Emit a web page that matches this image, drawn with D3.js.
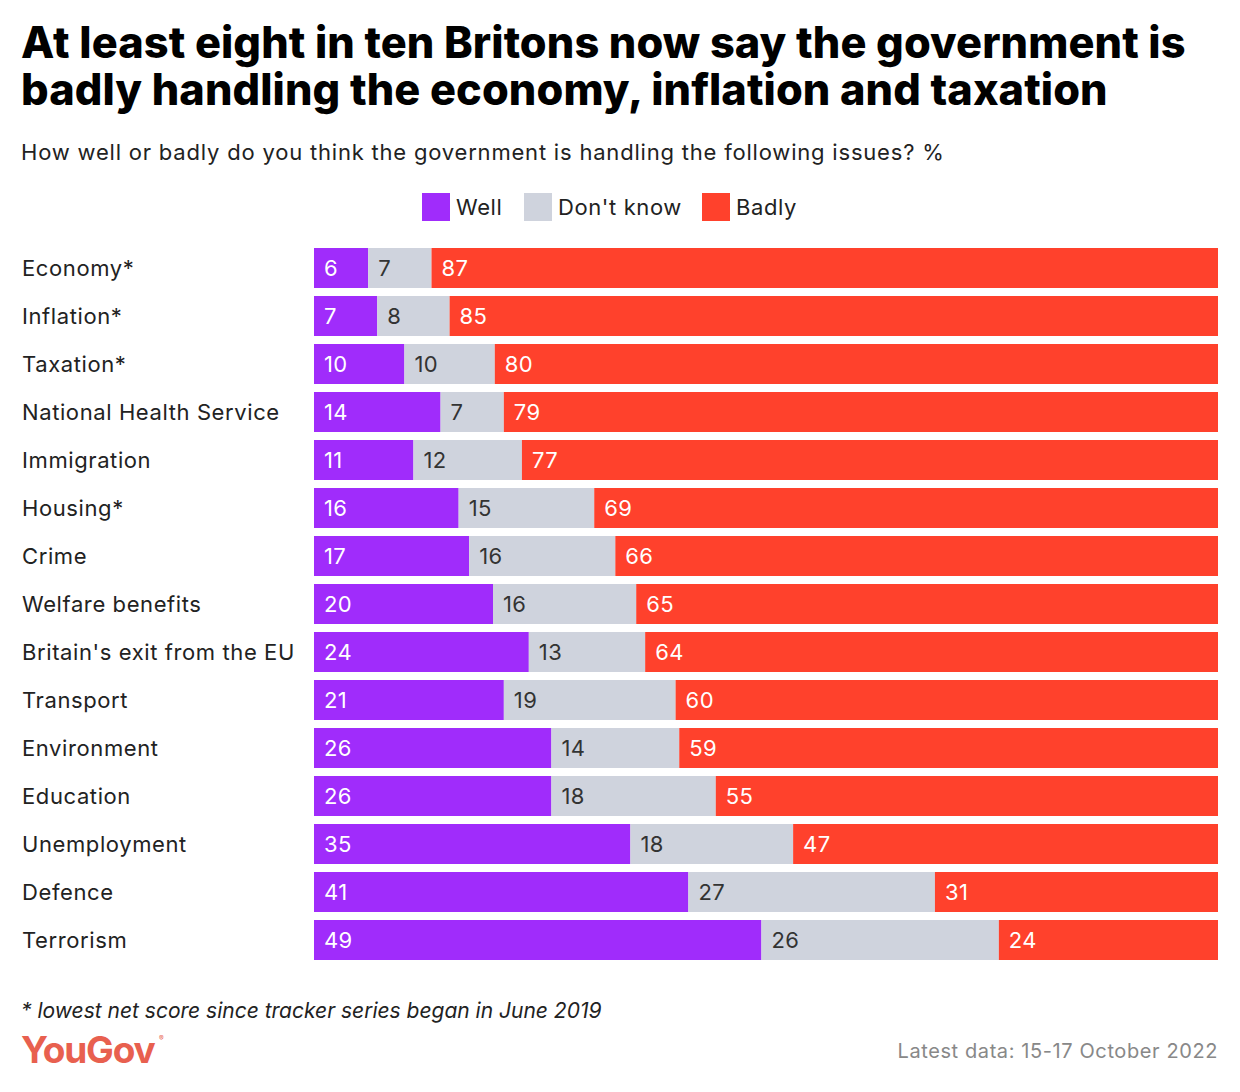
<!DOCTYPE html>
<html>
<head>
<meta charset="utf-8">
<script src="https://cdn.jsdelivr.net/npm/d3@7"></script>
<style>
  body { margin: 0; background: #fff; }
  svg { display: block; font-family: Inter, "Noto Sans", sans-serif; }
</style>
</head>
<body>
<svg id="chart" width="1240" height="1092"></svg>
<script>
var categories = ["Economy*", "Inflation*", "Taxation*", "National Health Service", "Immigration",
  "Housing*", "Crime", "Welfare benefits", "Britain's exit from the EU", "Transport",
  "Environment", "Education", "Unemployment", "Defence", "Terrorism"];
var well     = [6, 7, 10, 14, 11, 16, 17, 20, 24, 21, 26, 26, 35, 41, 49];
var dontKnow = [7, 8, 10, 7, 12, 15, 16, 16, 13, 19, 14, 18, 18, 27, 26];
var badly    = [87, 85, 80, 79, 77, 69, 66, 65, 64, 60, 59, 55, 47, 31, 24];
var seriesNames = ["Well", "Don't know", "Badly"];
var seriesColors = ["#a02cfb", "#cfd3dd", "#ff412c"];
var labelColors = ["#ffffff", "#333333", "#ffffff"];

var svg = d3.select("#chart");
var width = 1240, height = 1092;

// title
var title = svg.append("text")
  .style("font-size", "43.3px")
  .style("font-weight", 800)
  .style("letter-spacing", "0.1px")
  .attr("fill", "#000");
title.append("tspan").attr("x", 21).attr("y", 58).text("At least eight in ten Britons now say the government is");
title.append("tspan").attr("x", 21).attr("y", 105).text("badly handling the economy, inflation and taxation");

svg.append("text")
  .attr("x", 21).attr("y", 160)
  .style("font-size", "22px")
  .style("letter-spacing", "0.8px")
  .attr("fill", "#222")
  .text("How well or badly do you think the government is handling the following issues? %");

// legend
var legendX = [422, 524, 702];
var legend = svg.append("g");
seriesNames.forEach(function(name, i) {
  legend.append("rect")
    .attr("x", legendX[i]).attr("y", 193)
    .attr("width", 28).attr("height", 28)
    .attr("fill", seriesColors[i]);
  legend.append("text")
    .attr("x", legendX[i] + 34).attr("y", 215)
    .style("font-size", "22px")
    .style("letter-spacing", "0.6px")
    .attr("fill", "#222")
    .text(name);
});

// bars
var margin = {left: 314, right: 22, top: 248};
var rows = categories.map(function(c, i) {
  var vals = [well[i], dontKnow[i], badly[i]];
  var total = d3.sum(vals);
  var start = 0;
  var segs = vals.map(function(v, j) {
    var s = {cat: c, series: j, value: v, x0: start / total * 100, x1: (start + v) / total * 100};
    start += v;
    return s;
  });
  return {cat: c, segs: segs};
});

var x = d3.scaleLinear().domain([0, 100]).range([margin.left, width - margin.right]);
var y = d3.scaleBand().domain(categories)
  .range([margin.top, margin.top + 48 * categories.length - 8])
  .paddingInner(8 / 48).paddingOuter(0);

var rowG = svg.append("g").selectAll("g")
  .data(rows)
  .enter().append("g");

rowG.append("text")
  .attr("x", 22)
  .attr("y", function(d) { return y(d.cat) + y.bandwidth() / 2 + 8; })
  .style("font-size", "22px")
  .style("letter-spacing", "0.6px")
  .attr("fill", "#222")
  .text(function(d) { return d.cat; });

var seg = rowG.selectAll("g.seg")
  .data(function(d) { return d.segs; })
  .enter().append("g").attr("class", "seg");

seg.append("rect")
  .attr("x", function(d) { return x(d.x0); })
  .attr("y", function(d) { return y(d.cat); })
  .attr("width", function(d) { return x(d.x1) - x(d.x0); })
  .attr("height", y.bandwidth())
  .attr("fill", function(d) { return seriesColors[d.series]; });

seg.append("text")
  .attr("x", function(d) { return x(d.x0) + 10; })
  .attr("y", function(d) { return y(d.cat) + y.bandwidth() / 2 + 8; })
  .style("font-size", "22px")
  .style("letter-spacing", "0.4px")
  .attr("fill", function(d) { return labelColors[d.series]; })
  .text(function(d) { return d.value; });

// footer
svg.append("text")
  .attr("x", 21).attr("y", 1018)
  .style("font-size", "21px")
  .style("font-style", "italic")
  .attr("fill", "#222")
  .text("* lowest net score since tracker series began in June 2019");

svg.append("text")
  .attr("x", 21).attr("y", 1063)
  .style("font-size", "37px")
  .style("font-weight", 700)
  .style("letter-spacing", "-1.2px")
  .attr("fill", "#e8604f")
  .text("YouGov");
svg.append("text")
  .attr("x", 159).attr("y", 1041)
  .style("font-size", "7px")
  .attr("fill", "#e8604f")
  .text("®");

svg.append("text")
  .attr("x", 1218).attr("y", 1058)
  .attr("text-anchor", "end")
  .style("font-size", "20px")
  .style("letter-spacing", "0.6px")
  .attr("fill", "#888")
  .text("Latest data: 15-17 October 2022");
</script>
</body>
</html>
